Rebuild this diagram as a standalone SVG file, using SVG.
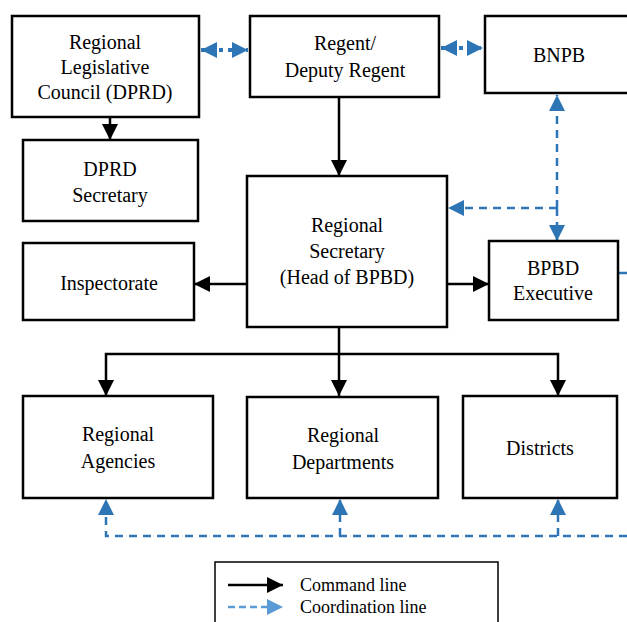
<svg xmlns="http://www.w3.org/2000/svg" width="627" height="622" viewBox="0 0 627 622" font-family="serif">
<style>
.box{fill:#fff;stroke:#000;stroke-width:2.5}
.t{font-family:'Liberation Serif','Times New Roman',serif;font-size:20px;fill:#000;text-anchor:middle}
.lt{font-family:'Liberation Serif','Times New Roman',serif;font-size:18px;fill:#000}
.cmd{fill:none;stroke:#000;stroke-width:2.5}
.co{fill:none;stroke:#2e75b6;stroke-width:2.5;stroke-dasharray:8 6}
.dot{fill:none;stroke:#2e75b6;stroke-width:4;stroke-dasharray:4 5}
</style>
<defs>
<marker id="ak" markerUnits="userSpaceOnUse" markerWidth="18" markerHeight="16" refX="16" refY="8" orient="auto"><path d="M0,0 L16,8 L0,16 Z" fill="#000"/></marker>
<marker id="ab" markerUnits="userSpaceOnUse" markerWidth="18" markerHeight="16" refX="16" refY="8" orient="auto"><path d="M0,0 L16,8 L0,16 Z" fill="#2e75b6"/></marker>
<marker id="abs" markerUnits="userSpaceOnUse" markerWidth="18" markerHeight="16" refX="16" refY="8" orient="auto-start-reverse"><path d="M0,0 L16,8 L0,16 Z" fill="#2e75b6"/></marker>
<marker id="al" markerUnits="userSpaceOnUse" markerWidth="18" markerHeight="16" refX="16" refY="8" orient="auto"><path d="M0,0 L16,8 L0,16 Z" fill="#5b9bd5"/></marker>
</defs>
<g id="connectors">
<path class="cmd" d="M339,97 V176" marker-end="url(#ak)"/>
<path class="cmd" d="M110,117 V140" marker-end="url(#ak)"/>
<path class="cmd" d="M247,284 H194" marker-end="url(#ak)"/>
<path class="cmd" d="M447,284 H489" marker-end="url(#ak)"/>
<path class="cmd" d="M339,327 V396" marker-end="url(#ak)"/>
<path class="cmd" d="M339,354 H106 V396" marker-end="url(#ak)"/>
<path class="cmd" d="M339,354 H558 V396" marker-end="url(#ak)"/>
<path class="dot" d="M201,50 H248" marker-start="url(#abs)" marker-end="url(#abs)"/>
<path class="dot" d="M441,48 H483" marker-start="url(#abs)" marker-end="url(#abs)"/>
<path class="co" d="M557,208 V95" marker-end="url(#ab)"/>
<path class="co" d="M557,208 V241" marker-end="url(#ab)"/>
<path class="co" d="M557,208 H448" marker-end="url(#ab)"/>
<path class="co" d="M619,273 H627"/>
<path class="co" d="M627,536 H106 V499" marker-end="url(#ab)"/>
<path class="co" d="M340,536 V499" marker-end="url(#ab)"/>
<path class="co" d="M558,536 V499" marker-end="url(#ab)"/>
</g>
<g id="dprd"><rect class="box" x="12" y="16" width="187" height="101"/><text class="t" x="105" y="49">Regional</text><text class="t" x="105" y="74">Legislative</text><text class="t" x="105" y="99">Council (DPRD)</text></g>
<g id="regent"><rect class="box" x="250" y="16" width="189" height="81"/><text class="t" x="345" y="50">Regent/</text><text class="t" x="345" y="77">Deputy Regent</text></g>
<g id="bnpb"><rect class="box" x="485" y="16" width="150" height="77"/><text class="t" x="559" y="62">BNPB</text></g>
<g id="dprd-secretary"><rect class="box" x="23" y="140" width="175" height="81"/><text class="t" x="110" y="176">DPRD</text><text class="t" x="110" y="202">Secretary</text></g>
<g id="regional-secretary"><rect class="box" x="247" y="176" width="200" height="151"/><text class="t" x="347" y="232">Regional</text><text class="t" x="347" y="258">Secretary</text><text class="t" x="347" y="284">(Head of BPBD)</text></g>
<g id="inspectorate"><rect class="box" x="23" y="243" width="171" height="77"/><text class="t" x="109" y="290">Inspectorate</text></g>
<g id="bpbd"><rect class="box" x="489" y="241" width="129" height="79"/><text class="t" x="553" y="275">BPBD</text><text class="t" x="553" y="300">Executive</text></g>
<g id="agencies"><rect class="box" x="23" y="396" width="190" height="102"/><text class="t" x="118" y="441">Regional</text><text class="t" x="118" y="468">Agencies</text></g>
<g id="departments"><rect class="box" x="247" y="397" width="191" height="101"/><text class="t" x="343" y="442">Regional</text><text class="t" x="343" y="469">Departments</text></g>
<g id="districts"><rect class="box" x="463" y="396" width="154" height="102"/><text class="t" x="540" y="455">Districts</text></g>
<g id="legend"><rect x="215" y="562" width="283" height="70" fill="#fff" stroke="#000" stroke-width="1.5"/>
<path class="cmd" d="M228,585 H283" marker-end="url(#ak)"/>
<path d="M228,607 H283" fill="none" stroke="#5b9bd5" stroke-width="2.5" stroke-dasharray="7 4" marker-end="url(#al)"/>
<text class="lt" x="300" y="591">Command line</text>
<text class="lt" x="300" y="613">Coordination line</text></g>
</svg>
